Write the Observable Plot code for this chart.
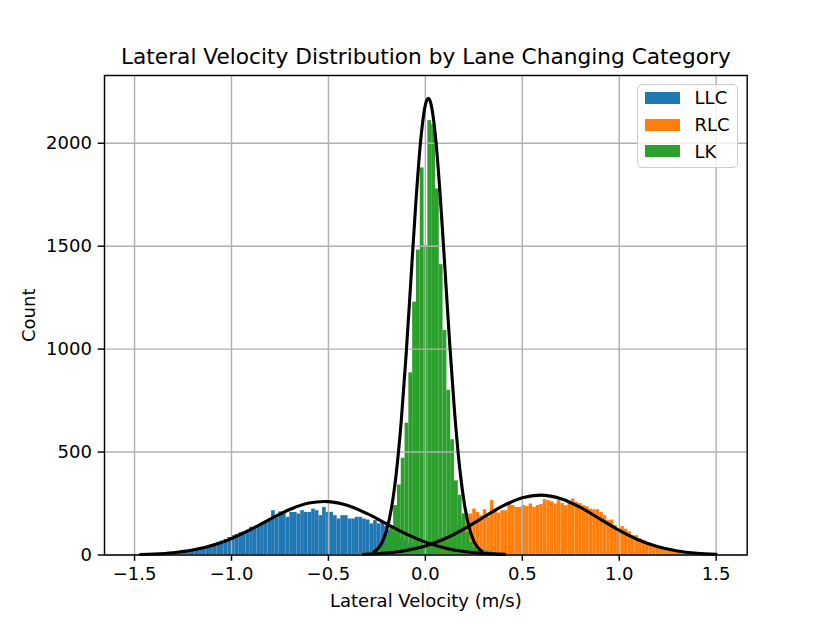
<!DOCTYPE html>
<html>
<head>
<meta charset="utf-8">
<script src="https://cdn.jsdelivr.net/npm/d3@7"></script>
<script src="https://cdn.jsdelivr.net/npm/@observablehq/plot@0.6"></script>
<style>
  body { margin: 0; background: #fff; font-family: "DejaVu Sans", sans-serif; }
  #wrap { position: relative; width: 830px; height: 623px; }
  #legend { position: absolute; left: 637px; top: 84px; width: 101px; height: 84px; box-sizing: border-box;
    border: 1.4px solid #cccccc; border-radius: 5px; background: rgba(255,255,255,0.8); }
  .item { position: absolute; left: 6.6px; height: 24px; display: flex; align-items: center; font-size: 18px; color: #000; }
  .sw { width: 35.7px; height: 12px; margin-right: 14.3px; }
</style>
</head>
<body>
<div id="wrap"></div>
<script>
// ---- data ----
const seriesNames = ["LLC", "RLC", "LK"];
const seriesColors = ["#1f77b4", "#ff7f0e", "#2ca02c"];

// histogram bins: start edge, bin width, counts
const llcStart = -1.47, llcWidth = 0.0188;
const llcCounts = [
  1,1,1,2,2, 3,4,5,6,8, 10,12,14,18,22, 28,32,36,42,50,
  55,62,68,75,85, 95,100,108,112,120, 135,128,140,152,158, 175,215,180,210,210,
  183,207,207,199,215, 207,207,223,215,191, 231,207,207,191,175, 191,191,175,175,183,
  183,175,170,151,167, 151,160,140,120,110, 95,80,70,55,45, 35,28,22,16,12,
  10,8,6,5,4, 3,3,2,2,1, 1,1,1,0,0, 0,0,0,0,0
];
const rlcStart = -0.32, rlcWidth = 0.0182;
const rlcCounts = [
  1,1,2,2,3, 3,4,5,6,7, 8,10,12,15,18, 22,26,30,36,42,
  50,60,72,85,100, 120,145,165,185,200, 199,223,207,191,220, 183,264,223,204,215,
  215,248,240,231,231, 240,235,248,231,240, 245,269,264,258,248, 264,250,240,255,272,
  256,250,240,235,223, 220,220,207,191,167, 170,143,110,138,125, 112,94,94,78,70,
  60,49,41,35,31, 27,23,21,18,16, 14,11,9,7,6, 5,4,3,2,1
];
const lkStart = -0.4183, lkWidth = 0.0196;
const lkCounts = [
  3,4,5,6,8, 10,14,18,22,30, 50,95,140,240,340, 470,640,885,1228,1481, 1880,
  1500,
  2110,2090,1778,1410,1090, 800,560,360,290,200, 110,60,36,30,25, 20,15,12,8,5, 3
];

// fitted normal curves
const llcCurveX = [-1.47,-1.4,-1.3,-1.2,-1.1,-1.0,-0.9,-0.8,-0.7,-0.6,-0.523,-0.5,-0.4,-0.3,-0.2,-0.1,0.0,0.1,0.2,0.3,0.41];
const llcCurveY = [2.5,4.8,11.2,23.9,46.0,79.6,124.1,174.4,220.9,252.1,260,259.3,240.3,200.7,151.1,102.5,62.7,34.5,17.1,7.7,2.8];
const rlcCurveX = [-0.32,-0.2,-0.1,0,0.1,0.2,0.3,0.4,0.5,0.593,0.7,0.8,0.9,1.0,1.1,1.2,1.3,1.4,1.5];
const rlcCurveY = [3.3,9.9,22.0,44.0,78.8,126.9,183.5,238.2,277.8,291,273.6,231.1,175.4,119.5,73.1,40.2,19.8,8.8,3.5];
const lkCurveX = [-0.265,-0.25,-0.225,-0.2,-0.175,-0.15,-0.125,-0.1,-0.075,-0.05,-0.025,0,0.015,0.025,0.05,0.075,0.1,0.125,0.15,0.175,0.2,0.225,0.25,0.275,0.29];
const lkCurveY = [15.7,26.3,58.5,119.9,227.1,397.6,643.7,962.6,1330.1,1698.8,2004.9,2186.7,2218,2204.0,2053.0,1767.3,1405.5,1033.4,702.0,440.7,255.7,137.1,67.9,31.1,18.7];

const xTicks = [-1.5, -1.0, -0.5, 0.0, 0.5, 1.0, 1.5];
const yTicks = [0, 500, 1000, 1500, 2000];
const titleText = "Lateral Velocity Distribution by Lane Changing Category";
const xLabel = "Lateral Velocity (m/s)";
const yLabel = "Count";

// ---- build tables ----
function bins(name, start, width, counts) {
  return counts.map((c, i) => ({series: name, x1: start + i * width, x2: start + (i + 1) * width, y: c}));
}
const histLLC = bins("LLC", llcStart, llcWidth, llcCounts);
const histRLC = bins("RLC", rlcStart, rlcWidth, rlcCounts);
const histLK = bins("LK", lkStart, lkWidth, lkCounts);
const curve = (xs, ys, name) => xs.map((x, i) => ({series: name, x, y: ys[i]}));
const curves = [
  curve(llcCurveX, llcCurveY, "LLC"),
  curve(rlcCurveX, rlcCurveY, "RLC"),
  curve(lkCurveX, lkCurveY, "LK")
];

const fmt = d => d.toFixed(1).replace("-", "\u2212");
const lw = 1.44;

const chart = Plot.plot({
  width: 830,
  height: 623,
  marginLeft: 104,
  marginRight: 83.3,
  marginTop: 75,
  marginBottom: 68.5,
  style: {fontFamily: "DejaVu Sans", fontSize: "18px", background: "#fff", color: "#000"},
  x: {domain: [-1.655, 1.66]},
  y: {domain: [0, 2329]},
  marks: [
    Plot.rectY(histLLC, {x1: "x1", x2: "x2", y: "y", fill: seriesColors[0], inset: 0}),
    Plot.rectY(histRLC, {x1: "x1", x2: "x2", y: "y", fill: seriesColors[1], inset: 0}),
    Plot.rectY(histLK, {x1: "x1", x2: "x2", y: "y", fill: seriesColors[2], inset: 0}),
    Plot.gridX(xTicks, {stroke: "#b0b0b0", strokeOpacity: 1, strokeWidth: lw}),
    Plot.gridY(yTicks, {stroke: "#b0b0b0", strokeOpacity: 1, strokeWidth: lw}),
    ...curves.map(c => Plot.line(c, {x: "x", y: "y", stroke: "black", strokeWidth: 3.1, curve: "monotone-x"})),
    Plot.axisX(xTicks, {tickSize: 6.3, tickPadding: 6.3, tickFormat: fmt, fontSize: 18, strokeWidth: lw, label: null}),
    Plot.axisY(yTicks, {tickSize: 6.3, tickPadding: 6.3, tickFormat: d => String(d), fontSize: 18, strokeWidth: lw, label: null}),
    Plot.frame({stroke: "black", strokeWidth: lw}),
    Plot.text([titleText], {frameAnchor: "top", lineAnchor: "middle", dy: -18, fontSize: 21.7, fill: "black"}),
    Plot.text([xLabel], {frameAnchor: "bottom", lineAnchor: "middle", dy: 46, fontSize: 18, fill: "black"}),
    Plot.text([yLabel], {frameAnchor: "left", textAnchor: "middle", lineAnchor: "middle", dx: -75, rotate: -90, fontSize: 18, fill: "black"})
  ]
});
const wrap = document.getElementById("wrap");
wrap.appendChild(chart);

const legend = document.createElement("div");
legend.id = "legend";
const centers = [12.9, 39.6, 66.1];
seriesNames.forEach((name, i) => {
  const item = document.createElement("div");
  item.className = "item";
  item.style.top = (centers[i] - 12) + "px";
  const sw = document.createElement("div");
  sw.className = "sw";
  sw.style.background = seriesColors[i];
  const label = document.createElement("span");
  label.textContent = name;
  item.appendChild(sw);
  item.appendChild(label);
  legend.appendChild(item);
});
wrap.appendChild(legend);
</script>
</body>
</html>
